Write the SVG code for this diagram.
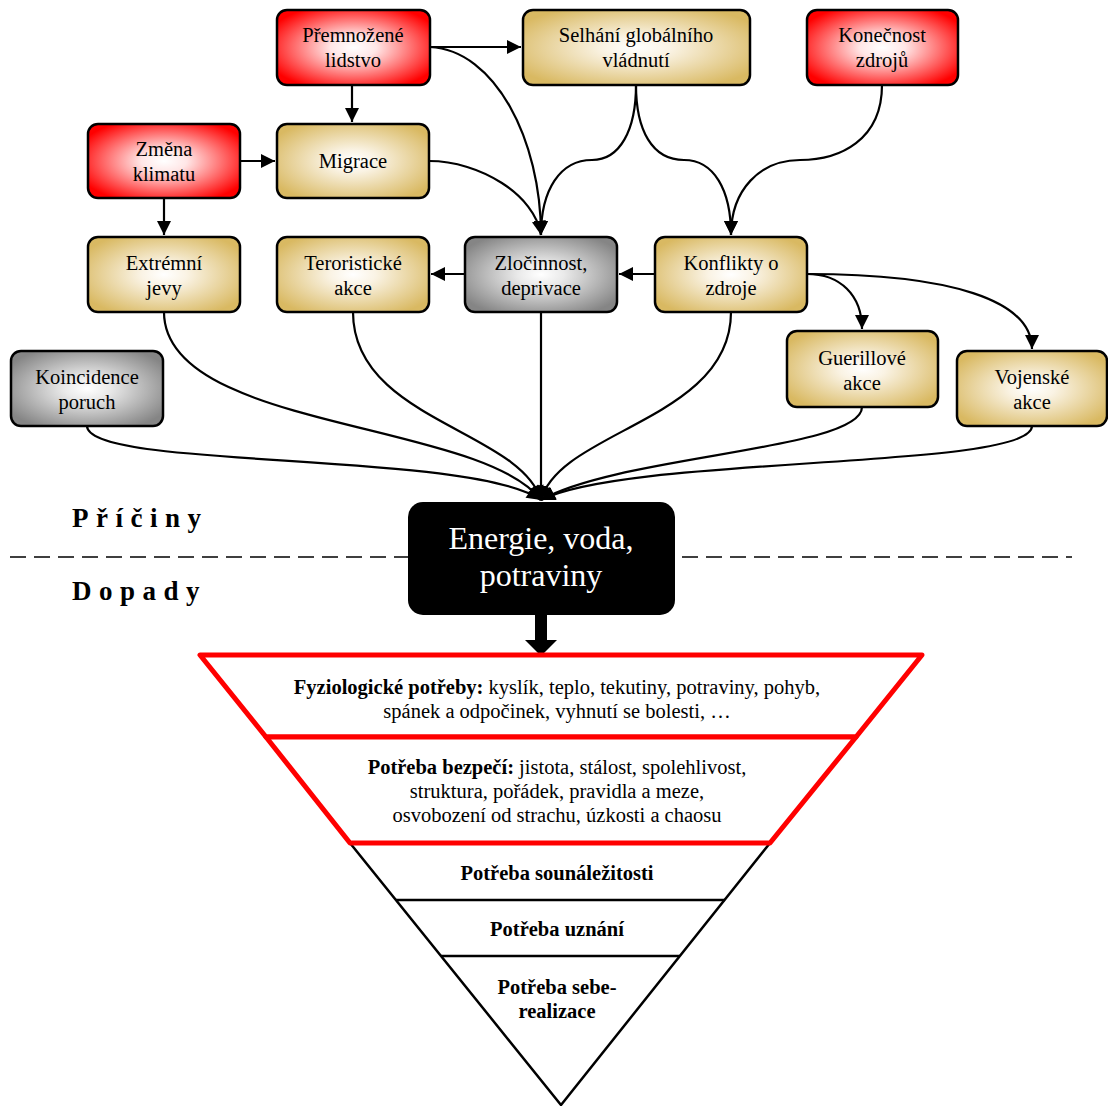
<svg xmlns="http://www.w3.org/2000/svg" width="1108" height="1106" viewBox="0 0 1108 1106">
<style>
.n{stroke:#000;stroke-width:2.5}
.red{fill:url(#gRed)}
.tan{fill:url(#gTan)}
.gry{fill:url(#gGry)}
.t{font-family:"Liberation Serif","Times New Roman",serif;font-size:20.5px;text-anchor:middle;fill:#000}
.c{fill:none;stroke:#000;stroke-width:2.2}
.p{font-family:"Liberation Serif","Times New Roman",serif;font-size:20.5px;text-anchor:middle;fill:#000}
.b{font-weight:bold}
.h{font-family:"Liberation Serif","Times New Roman",serif;font-size:27px;font-weight:bold;letter-spacing:7.5px;fill:#000}
</style>
<defs>
<radialGradient id="gRed" cx="0.5" cy="0.5" r="0.6">
<stop offset="0" stop-color="#ffffff"/><stop offset="0.25" stop-color="#ffe6e6"/><stop offset="1" stop-color="#ff0000"/>
</radialGradient>
<radialGradient id="gTan" cx="0.5" cy="0.5" r="0.6">
<stop offset="0" stop-color="#ffffff"/><stop offset="0.25" stop-color="#faf3e4"/><stop offset="1" stop-color="#d9b962"/>
</radialGradient>
<radialGradient id="gGry" cx="0.5" cy="0.5" r="0.6">
<stop offset="0" stop-color="#ffffff"/><stop offset="0.25" stop-color="#eaeaea"/><stop offset="1" stop-color="#858585"/>
</radialGradient>
<marker id="ah" viewBox="0 0 10 10" refX="10" refY="5" markerWidth="15" markerHeight="14" markerUnits="userSpaceOnUse" orient="auto">
<path d="M0,0 L10,5 L0,10 Z" fill="#000"/>
</marker>
</defs>

<g id="connectors">
<path class="c" d="M430,47 L521,47" marker-end="url(#ah)"/>
<path class="c" d="M352,85 L352,122" marker-end="url(#ah)"/>
<path class="c" d="M240,161 L275,161" marker-end="url(#ah)"/>
<path class="c" d="M164,198 L164,235" marker-end="url(#ah)"/>
<path class="c" d="M655,274 L619,274" marker-end="url(#ah)"/>
<path class="c" d="M465,274 L431,274" marker-end="url(#ah)"/>
<path class="c" d="M430,47 C495,50 541,140 541,235" marker-end="url(#ah)"/>
<path class="c" d="M429,161 C480,161 535,195 541,235" marker-end="url(#ah)"/>
<path class="c" d="M636,85 C636,130 620,160 592,160 C560,160 541,190 541,235" marker-end="url(#ah)"/>
<path class="c" d="M636,85 C636,130 652,160 684,160 C714,160 731,190 731,235" marker-end="url(#ah)"/>
<path class="c" d="M882,85 C882,140 840,160 800,160 C760,160 731,190 731,235" marker-end="url(#ah)"/>
<path class="c" d="M807,274 C840,274 862,295 862,329" marker-end="url(#ah)"/>
<path class="c" d="M807,274 C950,274 1032,300 1032,349" marker-end="url(#ah)"/>
<path class="c" d="M164,312 C164,430 480,420 541,500" marker-end="url(#ah)"/>
<path class="c" d="M353,312 C353,420 520,430 541,500" marker-end="url(#ah)"/>
<path class="c" d="M541,312 L541,500" marker-end="url(#ah)"/>
<path class="c" d="M731,312 C731,420 560,430 541,500" marker-end="url(#ah)"/>
<path class="c" d="M87,426 C87,470 470,450 541,500" marker-end="url(#ah)"/>
<path class="c" d="M862,407 C862,450 620,455 541,500" marker-end="url(#ah)"/>
<path class="c" d="M1032,426 C1032,470 630,455 541,500" marker-end="url(#ah)"/>
</g>

<line x1="10" y1="557" x2="1072" y2="557" stroke="#000" stroke-width="1.5" stroke-dasharray="16,8"/>
<text class="h" x="72" y="527">Příčiny</text>
<text class="h" x="72" y="600">Dopady</text>

<g id="n1"><rect class="n red" x="277" y="10" width="153" height="75" rx="10"/><text class="t" x="353" y="42">Přemnožené</text><text class="t" x="353" y="67">lidstvo</text></g>
<g id="n2"><rect class="n tan" x="523" y="10" width="227" height="75" rx="10"/><text class="t" x="636" y="42">Selhání globálního</text><text class="t" x="636" y="67">vládnutí</text></g>
<g id="n3"><rect class="n red" x="807" y="10" width="151" height="75" rx="10"/><text class="t" x="882" y="42">Konečnost</text><text class="t" x="882" y="67">zdrojů</text></g>
<g id="n4"><rect class="n red" x="88" y="124" width="152" height="74" rx="10"/><text class="t" x="164" y="156">Změna</text><text class="t" x="164" y="181">klimatu</text></g>
<g id="n5"><rect class="n tan" x="277" y="124" width="152" height="74" rx="10"/><text class="t" x="353" y="168">Migrace</text></g>
<g id="n6"><rect class="n tan" x="88" y="237" width="152" height="75" rx="10"/><text class="t" x="164" y="270">Extrémní</text><text class="t" x="164" y="295">jevy</text></g>
<g id="n7"><rect class="n tan" x="277" y="237" width="152" height="75" rx="10"/><text class="t" x="353" y="270">Teroristické</text><text class="t" x="353" y="295">akce</text></g>
<g id="n8"><rect class="n gry" x="465" y="237" width="152" height="75" rx="10"/><text class="t" x="541" y="270">Zločinnost,</text><text class="t" x="541" y="295">deprivace</text></g>
<g id="n9"><rect class="n tan" x="655" y="237" width="152" height="75" rx="10"/><text class="t" x="731" y="270">Konflikty o</text><text class="t" x="731" y="295">zdroje</text></g>
<g id="n10"><rect class="n gry" x="11" y="351" width="152" height="75" rx="10"/><text class="t" x="87" y="384">Koincidence</text><text class="t" x="87" y="409">poruch</text></g>
<g id="n11"><rect class="n tan" x="787" y="331" width="151" height="76" rx="10"/><text class="t" x="862" y="365">Guerillové</text><text class="t" x="862" y="390">akce</text></g>
<g id="n12"><rect class="n tan" x="957" y="351" width="150" height="75" rx="10"/><text class="t" x="1032" y="384">Vojenské</text><text class="t" x="1032" y="409">akce</text></g>

<g id="energie">
<rect x="408" y="502" width="267" height="113" rx="15" fill="#000"/>
<text x="541" y="549" font-family="'Liberation Serif','Times New Roman',serif" font-size="32" fill="#fff" text-anchor="middle">Energie, voda,</text>
<text x="541" y="586" font-family="'Liberation Serif','Times New Roman',serif" font-size="32" fill="#fff" text-anchor="middle">potraviny</text>
</g>
<path id="bigarrow" d="M535,615 L547,615 L547,640 L557,640 L541,656 L525,640 L535,640 Z" fill="#000"/>

<g id="pyramid">
<path d="M350,843 L770,843 L561,1105 Z" fill="#fff" stroke="#000" stroke-width="2.5"/>
<line x1="396" y1="900" x2="725" y2="900" stroke="#000" stroke-width="2.5"/>
<line x1="441" y1="956" x2="680" y2="956" stroke="#000" stroke-width="2.5"/>
<path d="M200,655 L922,655 L856,737 L266,737 Z" fill="#fff" stroke="#f00" stroke-width="5" stroke-linejoin="round"/>
<path d="M266,737 L856,737 L770,843 L350,843 Z" fill="#fff" stroke="#f00" stroke-width="5" stroke-linejoin="round"/>
<text class="p" x="557" y="694"><tspan class="b">Fyziologické potřeby:</tspan> kyslík, teplo, tekutiny, potraviny, pohyb,</text>
<text class="p" x="557" y="718">spánek a odpočinek, vyhnutí se bolesti, …</text>
<text class="p" x="557" y="774"><tspan class="b">Potřeba bezpečí:</tspan> jistota, stálost, spolehlivost,</text>
<text class="p" x="557" y="798">struktura, pořádek, pravidla a meze,</text>
<text class="p" x="557" y="822">osvobození od strachu, úzkosti a chaosu</text>
<text class="p b" x="557" y="880">Potřeba sounáležitosti</text>
<text class="p b" x="557" y="936">Potřeba uznání</text>
<text class="p b" x="557" y="994">Potřeba sebe-</text>
<text class="p b" x="557" y="1018">realizace</text>
</g>
</svg>
